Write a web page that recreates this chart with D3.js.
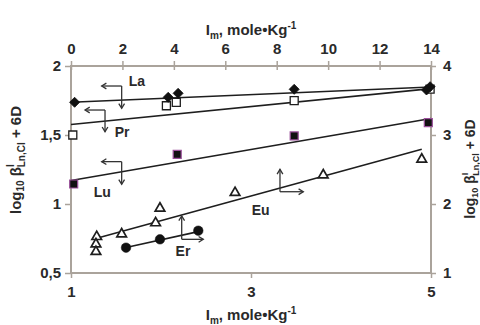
<!DOCTYPE html>
<html><head><meta charset="utf-8">
<script src="https://cdn.jsdelivr.net/npm/d3@7"></script>
<style>
body{margin:0;background:#fff}
svg text{font-family:"Liberation Sans",Arial,sans-serif;font-weight:bold;fill:#2a2a2a}
</style>
</head><body><svg id="c" width="480" height="325"></svg>
<script>
// ---- tick values ----
const bottomTicks = [1, 3, 5];
const topTicks = [0, 2, 4, 6, 8, 10, 12, 14];
const leftTicks = [0.5, 1, 1.5, 2];
const rightTicks = [1, 2, 3, 4];

// ---- series on bottom (x) / left (y) axes ----
const laX = [1.04, 2.08, 2.19, 3.48, 4.99, 4.95];
const laY = [1.737, 1.773, 1.802, 1.831, 1.85, 1.826];
const laFitX = [1, 5], laFitY = [1.737, 1.848];

const prX = [1.02, 2.06, 2.17, 3.48, 4.99];
const prY = [1.50, 1.712, 1.737, 1.749, 1.833];
const prFitX = [1, 5], prFitY = [1.576, 1.836];

const luX = [1.03, 2.18, 3.48, 4.97];
const luY = [1.145, 1.36, 1.493, 1.589];
const luFitX = [1, 5], luFitY = [1.17, 1.62];

// ---- series on top (x) / right (y) axes ----
const euX = [1.0, 0.97, 0.97, 1.97, 3.29, 3.46, 6.38, 9.81, 13.64];
const euY = [1.526, 1.42, 1.309, 1.565, 1.725, 1.938, 2.164, 2.42, 2.648];
const euFitX = [1.0, 13.64], euFitY = [1.503, 2.793];

const erX = [2.14, 3.46, 4.95];
const erY = [1.367, 1.488, 1.613];
const erFitX = [2.14, 4.95], erFitY = [1.37, 1.60];

const svg = d3.select("#c");
const xB = d3.scaleLinear().domain([1, 5]).range([71, 431]);
const xT = d3.scaleLinear().domain([0, 14]).range([71, 431]);
const yL = d3.scaleLinear().domain([0.5, 2]).range([273, 66]);
const yR = d3.scaleLinear().domain([1, 4]).range([273, 66]);

const axisCol = "#aaa39b";
const comma = d => String(d).replace(".", ",");

function styleAxis(g) {
  g.select(".domain").remove();
  g.selectAll(".tick line").attr("stroke", axisCol).attr("stroke-width", 1.5);
  g.selectAll(".tick text").attr("font-size", 15).attr("fill", "#2a2a2a");
}

// frame
svg.append("rect").attr("x", xB(1)).attr("y", yL(2))
  .attr("width", xB(5) - xB(1)).attr("height", yL(0.5) - yL(2))
  .attr("fill", "none").attr("stroke", axisCol).attr("stroke-width", 2);

svg.append("g").attr("transform", `translate(0,${yL(0.5)})`)
  .call(d3.axisBottom(xB).tickValues(bottomTicks).tickSize(5).tickPadding(8).tickFormat(d3.format("d")))
  .call(styleAxis);
svg.append("g").attr("transform", `translate(0,${yL(2)})`)
  .call(d3.axisTop(xT).tickValues(topTicks).tickSize(5).tickPadding(7).tickFormat(d3.format("d")))
  .call(styleAxis)
  .call(g => g.selectAll(".tick line").attr("y1", 4));
svg.append("g").attr("transform", `translate(${xB(1)},0)`)
  .call(d3.axisLeft(yL).tickValues(leftTicks).tickSize(6).tickPadding(4).tickFormat(comma))
  .call(styleAxis);
svg.append("g").attr("transform", `translate(${xB(5)},0)`)
  .call(d3.axisRight(yR).tickValues(rightTicks).tickSize(5).tickPadding(7).tickFormat(comma))
  .call(styleAxis);

// fit lines
const lineCol = "#1e1e1e";
function fit(xs, ys, sx, sy) {
  svg.append("line")
    .attr("x1", sx(xs[0])).attr("y1", sy(ys[0]))
    .attr("x2", sx(xs[1])).attr("y2", sy(ys[1]))
    .attr("stroke", lineCol).attr("stroke-width", 1.6);
}
fit(laFitX, laFitY, xB, yL);
fit(prFitX, prFitY, xB, yL);
fit(luFitX, luFitY, xB, yL);
fit(euFitX, euFitY, xT, yR);
fit(erFitX, erFitY, xT, yR);

// markers
function markers(xs, ys, sx, sy, type, size, fill, stroke, sw, rot) {
  svg.append("g").selectAll("path").data(xs.map((x, i) => [x, ys[i]])).join("path")
    .attr("d", d3.symbol().type(type).size(size)())
    .attr("transform", d => `translate(${sx(d[0])},${sy(d[1])}) rotate(${rot || 0})`)
    .attr("fill", fill).attr("stroke", stroke).attr("stroke-width", sw);
}
markers(prX, prY, xB, yL, d3.symbolSquare, 64, "#fff", "#1e1e1e", 1.3);
markers(laX, laY, xB, yL, d3.symbolSquare, 50, "#111", "#111", 0.8, 45);
markers(luX, luY, xB, yL, d3.symbolSquare, 64, "#111", "#9a4f9a", 1.2);
markers(euX, euY, xT, yR, d3.symbolTriangle, 40, "#fff", "#1e1e1e", 1.7);
markers(erX, erY, xT, yR, d3.symbolCircle, 72, "#111", "#111", 0.5);

// annotation arrows (bottom/left data units): corner, horizontal end, vertical end, label
const ann = [
  {t: "La", cx: 1.563, cy: 1.855, hx: 1.341, vy: 1.693, lx: 1.733, ly: 1.891},
  {t: "Pr", cx: 1.378, cy: 1.681, hx: 1.156, vy: 1.524, lx: 1.567, ly: 1.522},
  {t: "Lu", cx: 1.563, cy: 1.307, hx: 1.341, vy: 1.143, lx: 1.348, ly: 1.089},
  {t: "Eu", cx: 3.322, cy: 1.089, hx: 3.581, vy: 1.251, lx: 3.108, ly: 0.957},
  {t: "Er", cx: 2.230, cy: 0.744, hx: 2.470, vy: 0.913, lx: 2.244, ly: 0.659}
];
const ac = "#333";
function arrow(x1, y1, x2, y2) {
  svg.append("line").attr("x1", x1).attr("y1", y1).attr("x2", x2).attr("y2", y2)
    .attr("stroke", ac).attr("stroke-width", 1.3);
  const a = Math.atan2(y2 - y1, x2 - x1), L = 5.5, s = 0.55;
  svg.append("path")
    .attr("d", `M${x2 - L * Math.cos(a - s)},${y2 - L * Math.sin(a - s)}L${x2},${y2}L${x2 - L * Math.cos(a + s)},${y2 - L * Math.sin(a + s)}`)
    .attr("fill", "none").attr("stroke", ac).attr("stroke-width", 1.3);
}
ann.forEach(d => {
  arrow(xB(d.cx), yL(d.cy), xB(d.hx), yL(d.cy));
  arrow(xB(d.cx), yL(d.cy), xB(d.cx), yL(d.vy));
  svg.append("text").attr("x", xB(d.lx)).attr("y", yL(d.ly)).attr("dy", "0.36em")
    .attr("text-anchor", "middle").attr("font-size", 14).text(d.t);
});

// axis titles
function imTitle(y) {
  const t = svg.append("text").attr("x", 251).attr("y", y).attr("text-anchor", "middle").attr("font-size", 15);
  t.append("tspan").text("I");
  t.append("tspan").attr("font-size", 10).attr("dy", 4).text("m");
  t.append("tspan").attr("dy", -4).text(", mole•Kg");
  t.append("tspan").attr("font-size", 10).attr("dy", -6).text("-1");
}
imTitle(35);
imTitle(320);

function yTitle(x, y, fs) {
  const t = svg.append("text").attr("transform", `translate(${x},${y}) rotate(-90)`)
    .attr("text-anchor", "middle").attr("font-size", fs);
  t.append("tspan").text("log");
  t.append("tspan").attr("font-size", fs - 5).attr("dy", 3).text("10");
  t.append("tspan").attr("dy", -3).text(" β");
  t.append("tspan").attr("font-size", fs - 5).attr("dy", -7).text("I");
  t.append("tspan").attr("font-size", fs - 5).attr("dy", 11).attr("dx", -3).text("Ln,Cl");
  t.append("tspan").attr("dy", -4).text(" + 6D");
}
yTitle(21, 160, 15);
yTitle(475, 169, 14);
</script></body></html>
